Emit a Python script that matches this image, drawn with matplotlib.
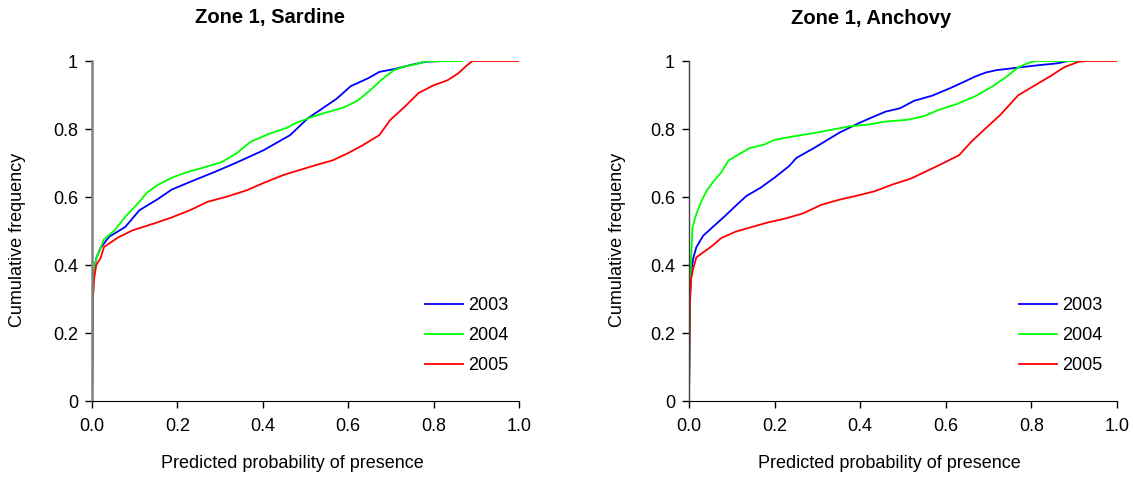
import numpy as np
import matplotlib.pyplot as plt

plt.rcParams['font.family'] = ['Liberation Sans', 'DejaVu Sans']

years = ['2003', '2004', '2005']
colors = ['#0000FF', '#00FF00', '#FF0000']

# Zone 1, Sardine
sard_2003_x = [0.0, 0.003, 0.01, 0.02, 0.04, 0.078, 0.111, 0.153, 0.187, 0.229, 0.288,
               0.338, 0.401, 0.464, 0.505, 0.539, 0.573, 0.606, 0.648, 0.673, 0.707,
               0.749, 0.782, 0.824]
sard_2003_y = [0.0, 0.37, 0.42, 0.45, 0.483, 0.512, 0.561, 0.593, 0.622, 0.644, 0.674,
               0.701, 0.737, 0.782, 0.831, 0.860, 0.889, 0.926, 0.950, 0.968, 0.976,
               0.989, 0.998, 1.0]
sard_2004_x = [0.0, 0.002, 0.005, 0.01, 0.02, 0.028, 0.053, 0.078, 0.111, 0.128, 0.153,
               0.187, 0.220, 0.262, 0.304, 0.338, 0.371, 0.413, 0.455, 0.480, 0.514,
               0.547, 0.589, 0.623, 0.656, 0.681, 0.707, 0.732, 0.757, 0.782, 0.866]
sard_2004_y = [0.0, 0.30, 0.38, 0.42, 0.45, 0.475, 0.502, 0.542, 0.586, 0.612, 0.635,
               0.657, 0.672, 0.687, 0.703, 0.728, 0.762, 0.785, 0.803, 0.819, 0.835,
               0.848, 0.863, 0.884, 0.919, 0.948, 0.973, 0.984, 0.990, 0.999, 1.0]
sard_2005_x = [0.0, 0.002, 0.005, 0.01, 0.02, 0.028, 0.061, 0.095, 0.145, 0.187, 0.229,
               0.271, 0.313, 0.363, 0.405, 0.447, 0.480, 0.522, 0.564, 0.598, 0.631,
               0.673, 0.698, 0.732, 0.765, 0.799, 0.832, 0.857, 0.878, 0.891, 1.0]
sard_2005_y = [0.0, 0.30, 0.36, 0.40, 0.42, 0.453, 0.481, 0.502, 0.522, 0.540, 0.561,
               0.586, 0.600, 0.620, 0.643, 0.664, 0.677, 0.693, 0.708, 0.728, 0.750,
               0.782, 0.826, 0.865, 0.906, 0.928, 0.943, 0.963, 0.987, 1.0, 1.0]

# Zone 1, Anchovy
anch_2003_x = [0.0, 0.002, 0.005, 0.01, 0.017, 0.033, 0.054, 0.084, 0.109, 0.134, 0.167,
               0.200, 0.234, 0.251, 0.292, 0.317, 0.351, 0.393, 0.418, 0.459, 0.493,
               0.526, 0.568, 0.610, 0.643, 0.668, 0.693, 0.718, 0.752, 0.785, 0.819,
               0.860, 0.886, 0.927]
anch_2003_y = [0.0, 0.30, 0.38, 0.42, 0.452, 0.486, 0.510, 0.544, 0.574, 0.603, 0.627,
               0.657, 0.691, 0.715, 0.744, 0.763, 0.789, 0.815, 0.829, 0.851, 0.861,
               0.883, 0.898, 0.920, 0.939, 0.954, 0.966, 0.973, 0.978, 0.983, 0.988,
               0.993, 1.0, 1.0]
anch_2004_x = [0.0, 0.002, 0.005, 0.008, 0.017, 0.029, 0.042, 0.058, 0.075, 0.092, 0.109,
               0.142, 0.175, 0.200, 0.242, 0.292, 0.334, 0.376, 0.418, 0.459, 0.510,
               0.547, 0.585, 0.627, 0.668, 0.710, 0.744, 0.769, 0.794, 0.810, 0.927]
anch_2004_y = [0.0, 0.30, 0.42, 0.51, 0.549, 0.588, 0.620, 0.647, 0.672, 0.707, 0.720,
               0.744, 0.754, 0.768, 0.778, 0.788, 0.798, 0.808, 0.813, 0.822, 0.827,
               0.837, 0.857, 0.874, 0.896, 0.926, 0.956, 0.981, 0.995, 1.0, 1.0]
anch_2005_x = [0.0, 0.002, 0.005, 0.01, 0.017, 0.033, 0.054, 0.075, 0.109, 0.142, 0.184,
               0.226, 0.267, 0.309, 0.351, 0.393, 0.434, 0.476, 0.518, 0.560, 0.593,
               0.631, 0.660, 0.693, 0.727, 0.769, 0.802, 0.844, 0.877, 0.911, 0.927, 1.0]
anch_2005_y = [0.0, 0.28, 0.36, 0.39, 0.422, 0.437, 0.456, 0.479, 0.498, 0.510, 0.525,
               0.537, 0.552, 0.577, 0.592, 0.604, 0.617, 0.637, 0.654, 0.679, 0.699,
               0.723, 0.763, 0.802, 0.841, 0.899, 0.924, 0.955, 0.982, 0.998, 1.0, 1.0]

panels = [
    {'title': 'Zone 1, Sardine',
     'x': [sard_2003_x, sard_2004_x, sard_2005_x],
     'y': [sard_2003_y, sard_2004_y, sard_2005_y]},
    {'title': 'Zone 1, Anchovy',
     'x': [anch_2003_x, anch_2004_x, anch_2005_x],
     'y': [anch_2003_y, anch_2004_y, anch_2005_y]},
]

xticks = [0.0, 0.2, 0.4, 0.6, 0.8, 1.0]
xticklabels = ['0.0', '0.2', '0.4', '0.6', '0.8', '1.0']
yticks = [0, 0.2, 0.4, 0.6, 0.8, 1.0]
yticklabels = ['0', '0.2', '0.4', '0.6', '0.8', '1']

W, H = 1133, 479
fig = plt.figure(figsize=(W / 100, H / 100), dpi=100)

# axes boxes in pixels: left, right, top, bottom
boxes = [(92, 519, 61, 401), (689, 1117, 61, 401)]
title_x = [270, 871]
xlabel_x = [292, 889]
ylabel_x = [18, 617]
legend_x = [425, 1019]
left_spine = [('#808080', 1.8), ('#404040', 1.0)]
fs = 13

for k, p in enumerate(panels):
    l, r, t, b = boxes[k]
    ax = fig.add_axes([l / W, 1 - b / H, (r - l) / W, (b - t) / H])
    for i in range(3):
        ax.plot(p['x'][i], p['y'][i], color=colors[i], lw=1.3, label=years[i])
    ax.set_xlim(0, 1)
    ax.set_ylim(0, 1)
    ax.set_xticks(xticks)
    ax.set_xticklabels(xticklabels)
    ax.set_yticks(yticks)
    ax.set_yticklabels(yticklabels)
    ax.tick_params(axis='both', direction='out', length=5, width=1,
                   labelsize=fs, colors='black')
    ax.tick_params(axis='x', pad=7)
    ax.tick_params(axis='y', pad=5)
    ax.spines['top'].set_visible(False)
    ax.spines['right'].set_visible(False)
    ax.spines['left'].set_color(left_spine[k][0])
    ax.spines['left'].set_linewidth(left_spine[k][1])
    ax.spines['bottom'].set_color('black')
    ax.patch.set_visible(False)

    ax.legend(loc='upper left',
              bbox_to_anchor=((legend_x[k] - l) / (r - l), (b - 297) / (b - t)),
              frameon=False, fontsize=fs, handlelength=2.1, handletextpad=0.3,
              labelspacing=0.72, borderpad=0, borderaxespad=0)

    fig.text(title_x[k] / W, 1 - 18 / H, p['title'], ha='center', va='center',
             fontsize=14.5, fontweight='bold')
    fig.text(xlabel_x[k] / W, 1 - 464 / H, 'Predicted probability of presence',
             ha='center', va='center', fontsize=fs)
    fig.text(ylabel_x[k] / W, 1 - 240 / H, 'Cumulative frequency', ha='center',
             va='center', rotation=90, fontsize=fs)

fig.savefig('out.png', dpi=100)
